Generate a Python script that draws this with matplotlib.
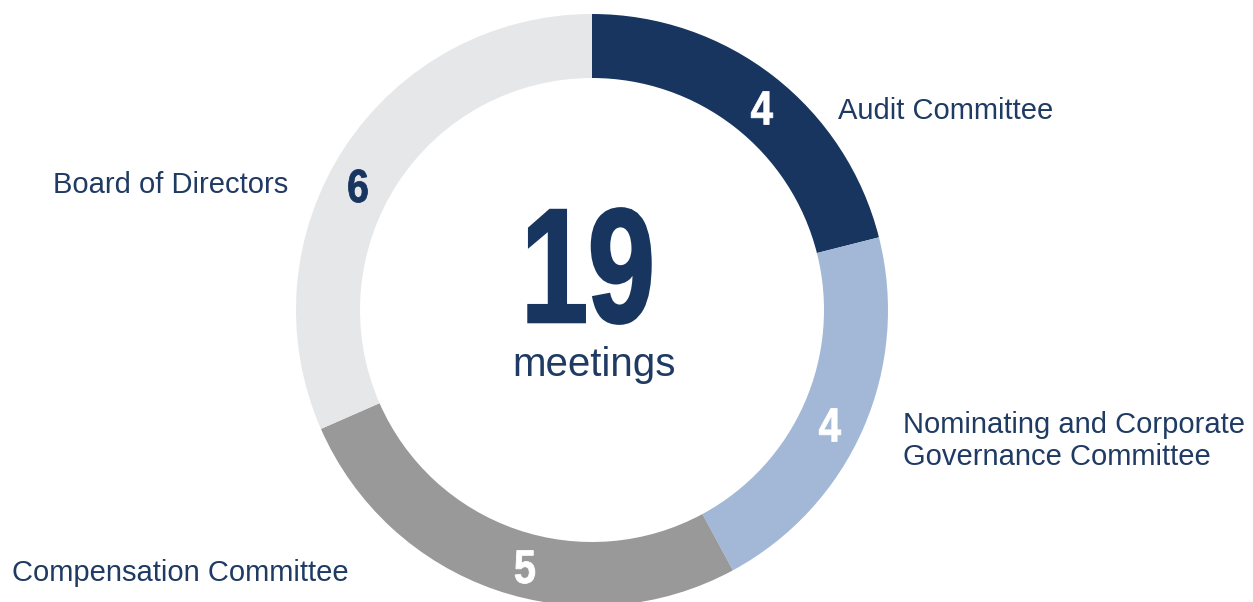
import matplotlib
matplotlib.use("Agg")
import matplotlib.pyplot as plt
from matplotlib import font_manager
from matplotlib.textpath import TextPath
from matplotlib.patches import PathPatch
from matplotlib.font_manager import FontProperties
from matplotlib.transforms import Affine2D

# Meetings held per body
labels = ["Audit Committee", "Nominating and Corporate\nGovernance Committee",
          "Compensation Committee", "Board of Directors"]
meetings = [4, 4, 5, 6]
colors = ["#17355e", "#a3b8d6", "#999999", "#e6e7e9"]
value_colors = ["white", "white", "white", "#17355e"]
center_label = "meetings"

NAVY = "#1f3a63"

installed = {f.name for f in font_manager.fontManager.ttflist}
txt_font = "Liberation Sans" if "Liberation Sans" in installed else "DejaVu Sans"

W, H = 1253, 602
fig = plt.figure(figsize=(W / 100, H / 100), dpi=100)
ax = fig.add_axes([0, 0, 1, 1])

cx, cy = 592, H - 310
r_out, ring = 296, 64

ax.pie(meetings, colors=colors, startangle=90, counterclock=False,
       radius=r_out, center=(cx, cy), frame=True,
       wedgeprops=dict(width=ring, linewidth=0))
ax.set_xlim(0, W)
ax.set_ylim(0, H)
ax.set_aspect("equal")
ax.axis("off")


def condensed_text(s, x, y, height, color, squeeze=0.74, lw=0.0):
    """Bold digits squeezed horizontally, centred on (x, y) in pixel units."""
    fp = FontProperties(family=txt_font, weight="bold")
    path = TextPath((0, 0), s, size=100, prop=fp)
    ext = path.get_extents()
    k = height / ext.height
    tr = (Affine2D()
          .translate(-(ext.x0 + ext.width / 2), -(ext.y0 + ext.height / 2))
          .scale(k * squeeze, k)
          .translate(x, y))
    ax.add_patch(PathPatch(tr.transform_path(path), facecolor=color,
                           edgecolor=color, linewidth=lw))


# value labels inside the ring (pixel positions from top)
value_pos = [(762, 108), (830, 425), (525, 567), (358, 186)]
for v, (x, y), c in zip(meetings, value_pos, value_colors):
    condensed_text(str(v), x, H - y, 33, c, squeeze=0.84, lw=0.6)

# category labels
label_pos = [(838, 111), (903, 441), (12, 573), (53, 185)]
for lab, (x, y) in zip(labels, label_pos):
    ax.text(x, H - y, lab, color=NAVY, fontsize=21, family=txt_font,
            ha="left", va="center", linespacing=1.18)

# center total
condensed_text(str(sum(meetings)), 589.5, H - 266, 115, "#17355e",
               squeeze=0.74, lw=2.0)
ax.text(cx + 2, H - 365, center_label, color=NAVY, fontsize=29,
        family=txt_font, ha="center", va="center")

fig.savefig("out.png", dpi=100)
